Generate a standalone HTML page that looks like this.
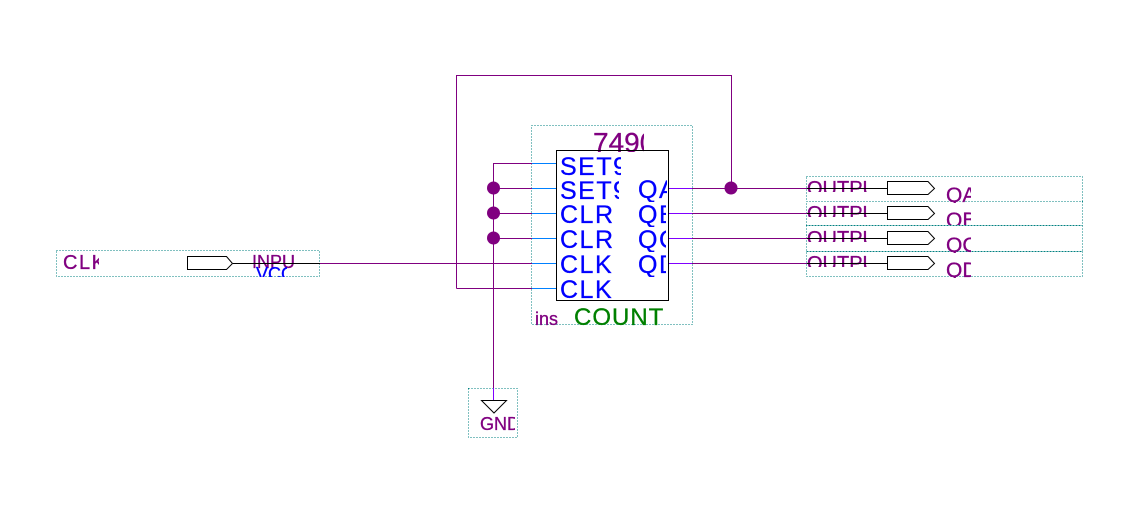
<!DOCTYPE html>
<html>
<head>
<meta charset="utf-8">
<style>
html,body{margin:0;padding:0;background:#fff;width:1147px;height:526px;overflow:hidden}
svg{display:block}
text{font-family:"Liberation Sans",sans-serif}
.d{fill:none;stroke:#008080;stroke-width:1;stroke-dasharray:1 2;shape-rendering:crispEdges}
.w{fill:none;stroke:#800080;stroke-width:1;shape-rendering:crispEdges}
.b{fill:none;stroke:#0080ff;stroke-width:1;shape-rendering:crispEdges}
.v{fill:none;stroke:#8000ff;stroke-width:1;shape-rendering:crispEdges}
.k{fill:none;stroke:#000;stroke-width:1;shape-rendering:crispEdges}
.pin{fill:#fff;stroke:#000;stroke-width:1}
.p{fill:#800080}
.n{fill:#0000ff}
text.p{stroke:#800080;stroke-width:.3}
text.n,g.n text{stroke:#0000ff;stroke-width:.3}
g.p text{stroke:#800080;stroke-width:.3}
</style>
</head>
<body>
<svg width="1147" height="526" viewBox="0 0 1147 526" xmlns="http://www.w3.org/2000/svg">
<defs>
<clipPath id="c749"><rect x="590" y="125" width="54" height="27"/></clipPath>
<clipPath id="s1"><rect x="558" y="152" width="63" height="25"/></clipPath>
<clipPath id="s2"><rect x="558" y="177" width="61" height="25"/></clipPath>
<clipPath id="qa"><rect x="636" y="177" width="31" height="25"/></clipPath>
<clipPath id="qb"><rect x="636" y="202" width="30" height="25"/></clipPath>
<clipPath id="qc"><rect x="636" y="227" width="30" height="25"/></clipPath>
<clipPath id="qd"><rect x="636" y="252" width="30" height="25"/></clipPath>
<clipPath id="clk"><rect x="60" y="250" width="39" height="26"/></clipPath>
<clipPath id="inp"><rect x="250" y="250" width="45" height="19"/></clipPath>
<clipPath id="vcc"><rect x="250" y="264" width="37" height="13"/></clipPath>
<clipPath id="o1"><rect x="806" y="176" width="62" height="16"/></clipPath>
<clipPath id="o2"><rect x="806" y="201" width="62" height="16"/></clipPath>
<clipPath id="o3"><rect x="806" y="226" width="62" height="16"/></clipPath>
<clipPath id="o4"><rect x="806" y="251" width="62" height="16"/></clipPath>
<clipPath id="ta"><rect x="945" y="180" width="26" height="23"/></clipPath>
<clipPath id="tb"><rect x="945" y="205" width="26" height="20"/></clipPath>
<clipPath id="tc"><rect x="945" y="230" width="26" height="23"/></clipPath>
<clipPath id="td"><rect x="945" y="255" width="26" height="23"/></clipPath>
<clipPath id="gnd"><rect x="478" y="412" width="37" height="24"/></clipPath>
</defs>

<!-- dotted frames -->
<rect class="d" x="531.5" y="125.5" width="161" height="199"/>
<rect class="d" x="56.5" y="250.5" width="263" height="26"/>
<rect class="d" x="806.5" y="176.5" width="276" height="25"/>
<rect class="d" x="806.5" y="201.5" width="276" height="24"/>
<rect class="d" x="806.5" y="225.5" width="276" height="26"/>
<rect class="d" x="806.5" y="251.5" width="276" height="25"/>
<rect class="d" x="468.5" y="388.5" width="49" height="49"/>

<!-- purple wires -->
<path class="w" d="M456.5 288.5V75.5H731.5V188"/>
<path class="w" d="M456.5 288.5H532"/>
<path class="w" d="M493.5 388V163.5H532"/>
<path class="w" d="M493.5 188.5H532M493.5 213.5H532M493.5 238.5H532"/>
<path class="w" d="M320 263.5H532"/>
<path class="w" d="M692 188.5H807M692 213.5H807M692 238.5H807M692 263.5H807"/>
<path class="v" d="M493.5 388V401"/>

<!-- blue and violet pin stubs -->
<path class="b" d="M532 163.5H556M532 188.5H556M532 213.5H556M532 238.5H556M532 263.5H556M532 288.5H556"/>
<path class="v" d="M669 188.5H692M669 213.5H692M669 238.5H692M669 263.5H692"/>

<!-- junctions -->
<g fill="#800080">
<circle cx="493.5" cy="188" r="6.5"/>
<circle cx="493.5" cy="213" r="6.5"/>
<circle cx="493.5" cy="238" r="6.5"/>
<circle cx="731" cy="188" r="6.5"/>
</g>

<!-- component label, drawn behind box line -->
<text x="593" y="152" font-size="28" class="p" clip-path="url(#c749)">7490</text>

<!-- component box -->
<rect x="556.5" y="150.5" width="112" height="150" fill="none" stroke="#000" stroke-width="1" shape-rendering="crispEdges"/>

<!-- pin names -->
<g class="n" font-size="25" letter-spacing="1.5">
<text x="560" y="175" clip-path="url(#s1)">SET9A</text>
<text x="560" y="199" clip-path="url(#s2)">SET9B</text>
<text x="560" y="223">CLR</text>
<text x="560" y="248">CLR</text>
<text x="560" y="273">CLK</text>
<text x="560" y="298">CLK</text>
<text x="638" y="198" clip-path="url(#qa)">QA</text>
<text x="638" y="223" clip-path="url(#qb)">QB</text>
<text x="638" y="248" clip-path="url(#qc)">QC</text>
<text x="638" y="273" clip-path="url(#qd)">QD</text>
</g>

<text x="535" y="325" font-size="18" class="p">ins</text>
<text x="574" y="325" font-size="24" fill="#008000" stroke="#008000" stroke-width=".3" letter-spacing="1">COUNT</text>

<!-- input -->
<text x="63" y="269" font-size="20" class="p" clip-path="url(#clk)" letter-spacing="1.5">CLK</text>
<text x="252" y="268" font-size="18" class="p" clip-path="url(#inp)">INPUT</text>
<text x="256" y="280" font-size="18" class="n" clip-path="url(#vcc)">VCC</text>
<polygon class="pin" points="187.5,256.5 226.5,256.5 232.5,263.5 226.5,269.5 187.5,269.5"/>
<path class="k" d="M233 263.5H320"/>

<!-- outputs -->
<g class="p" font-size="20">
<text x="807" y="195" clip-path="url(#o1)">OUTPUT</text>
<text x="807" y="220" clip-path="url(#o2)">OUTPUT</text>
<text x="807" y="245" clip-path="url(#o3)">OUTPUT</text>
<text x="807" y="270" clip-path="url(#o4)">OUTPUT</text>
</g>
<path class="k" d="M807 188.5H887M807 213.5H887M807 238.5H887M807 263.5H887"/>
<polygon class="pin" points="887.5,181.5 928,181.5 934.5,188.5 928,194.5 887.5,194.5"/>
<polygon class="pin" points="887.5,206.5 928,206.5 934.5,213.5 928,219.5 887.5,219.5"/>
<polygon class="pin" points="887.5,231.5 928,231.5 934.5,238.5 928,244.5 887.5,244.5"/>
<polygon class="pin" points="887.5,256.5 928,256.5 934.5,263.5 928,269.5 887.5,269.5"/>
<g class="p" font-size="21">
<text x="946" y="202" clip-path="url(#ta)">QA</text>
<text x="946" y="227" clip-path="url(#tb)">QB</text>
<text x="946" y="252" clip-path="url(#tc)">QC</text>
<text x="946" y="277" clip-path="url(#td)">QD</text>
</g>

<!-- gnd -->
<polygon points="481.5,400.5 506.5,400.5 494,413" fill="#fff" stroke="#000" stroke-width="1"/>
<text x="480" y="430" font-size="18" class="p" clip-path="url(#gnd)">GND</text>
</svg>
</body>
</html>
